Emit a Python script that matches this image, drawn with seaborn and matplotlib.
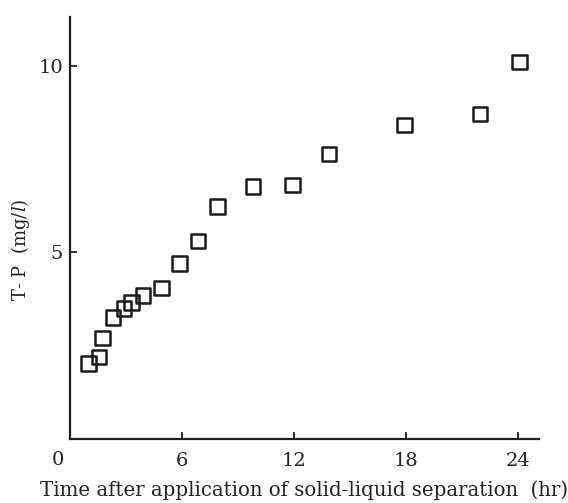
import numpy as np
import pandas as pd
import seaborn as sns
import matplotlib.pyplot as plt
from matplotlib.transforms import offset_copy

# values
hours = [1.0, 1.55, 1.75, 2.3, 2.9, 3.3, 3.9, 4.9, 5.85, 6.85, 7.9,
         9.8, 11.9, 13.85, 17.9, 21.95, 24.05]
tp = [2.02, 2.2, 2.7, 3.25, 3.5, 3.65, 3.85, 4.05, 4.7, 5.3, 6.22,
      6.76, 6.8, 7.63, 8.41, 8.71, 10.1]
x_ticks = [6, 12, 18, 24]
y_ticks = [5, 10]

df = pd.DataFrame({"hours": hours, "tp": tp})

sns.set_theme(style="ticks")
plt.rcParams['font.family'] = ['DejaVu Serif']
plt.rcParams['mathtext.fontset'] = 'custom'
plt.rcParams['mathtext.rm'] = 'DejaVu Serif'
plt.rcParams['mathtext.it'] = 'DejaVu Serif:italic'

fig = plt.figure(figsize=(5.68, 5.03), dpi=100)
ax = fig.add_axes([0.1232, 0.1272, 0.949 - 0.1232, 0.966 - 0.1272])

sns.scatterplot(data=df, x="hours", y="tp", marker="s", s=110,
                facecolor="none", edgecolor="#1a1a1a", linewidth=1.8, ax=ax)

ax.set_xlim(0, 25.1)
ax.set_ylim(0, 11.3)
ax.set_xticks(x_ticks)
ax.set_yticks(y_ticks)
ax.tick_params(direction="in", length=5, width=1.3, color="#222222",
               labelsize=14, labelcolor="#222222")
ax.tick_params(axis="x", pad=9)
ax.tick_params(axis="y", pad=5)
sns.despine(ax=ax)
for sp in ["left", "bottom"]:
    ax.spines[sp].set_linewidth(1.6)
    ax.spines[sp].set_color("#222222")

# shared origin label
ax.text(0, 0, "0", fontsize=14, color="#222222", ha="center", va="top",
        transform=offset_copy(ax.transData, fig=fig, x=-12, y=-12, units="dots"))

ax.set_xlabel("Time after application of solid-liquid separation  (hr)",
              fontsize=14.2, color="#222222", labelpad=8)
ax.set_ylabel(r"T- P  (mg/$\mathit{l}$)", fontsize=13, color="#222222")
ax.yaxis.set_label_coords(-0.105, 0.448)
ax.yaxis.label.set_va("center")

fig.savefig("out.png", dpi=100)
